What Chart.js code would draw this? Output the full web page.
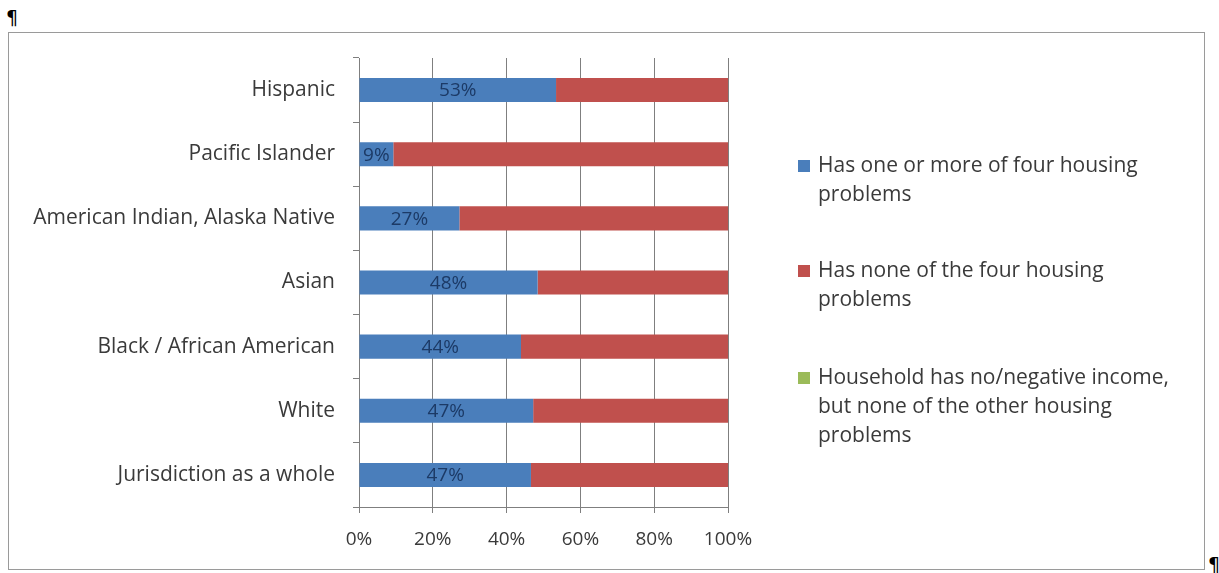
<!DOCTYPE html>
<html>
<head>
<meta charset="utf-8">
<script src="https://cdn.jsdelivr.net/npm/chart.js@4/dist/chart.umd.min.js"></script>
<style>
  body { margin: 0; background: #fff; font-family: "Open Sans", sans-serif; }
  #wrap { position: relative; width: 1219px; height: 573px; overflow: hidden; }
  #frame { position: absolute; left: 8px; top: 32px; width: 1197px; height: 538px; border: 1px solid #9a9a9a; box-sizing: border-box; }
  .pil { position: absolute; font-size: 19px; color: #000; font-family: "DejaVu Sans", sans-serif; }
  canvas { position: absolute; left: 0; top: 0; }
</style>
</head>
<body>
<div id="wrap">
  <div id="frame"></div>
  <span class="pil" style="left:6px; top:6px;">¶</span>
  <span class="pil" style="left:1208px; top:553px;">¶</span>
  <canvas id="chart1" width="1219" height="573"></canvas>
</div>
<script>
// categories, top to bottom
const categories = [
  "Hispanic",
  "Pacific Islander",
  "American Indian, Alaska Native",
  "Asian",
  "Black / African American",
  "White",
  "Jurisdiction as a whole",
];
// share of households (%)
const withProblems = [53.4, 9.3, 27.2, 48.4, 43.9, 47.2, 46.6];
const noIncome = [0, 0, 0, 0, 0, 0, 0];
const noProblems = withProblems.map((v, i) => 100 - v - noIncome[i]);
const tickLabels = ["0%", "20%", "40%", "60%", "80%", "100%"];

const seriesNames = [
  ["Has one or more of four housing", "problems"],
  ["Has none of the four housing", "problems"],
  ["Household has no/negative income,", "but none of the other housing", "problems"],
];

const textColor = "#3a3a3a";
const fontFamily = "'Open Sans', sans-serif";

// value labels inside the blue bars
const barLabels = {
  id: "barLabels",
  afterDatasetsDraw(chart) {
    const ctx = chart.ctx;
    const meta = chart.getDatasetMeta(0);
    ctx.save();
    ctx.fillStyle = "#1c3a66";
    ctx.font = "19px " + fontFamily;
    ctx.textAlign = "center";
    ctx.textBaseline = "middle";
    meta.data.forEach((bar, i) => {
      const p = bar.getProps(["x", "y", "base"], true);
      ctx.fillText(Math.round(withProblems[i]) + "%", (p.x + p.base) / 2, p.y + 1);
    });
    ctx.restore();
  },
};

// legend on the right with wrapped lines
const sideLegend = {
  id: "sideLegend",
  afterDraw(chart) {
    const ctx = chart.ctx;
    const tops = [166, 271, 378];
    ctx.save();
    ctx.font = "21px " + fontFamily;
    ctx.textBaseline = "middle";
    chart.data.datasets.forEach((ds, i) => {
      const y = tops[i];
      ctx.fillStyle = ds.backgroundColor;
      ctx.fillRect(798, y - 6, 12, 12);
      ctx.fillStyle = textColor;
      seriesNames[i].forEach((line, j) => {
        ctx.fillText(line, 818, y + j * 29);
      });
    });
    ctx.restore();
  },
};

new Chart(document.getElementById("chart1"), {
  type: "bar",
  data: {
    labels: categories,
    datasets: [
      { label: seriesNames[0].join(" "), data: withProblems, backgroundColor: "#4a7ebb" },
      { label: seriesNames[1].join(" "), data: noProblems, backgroundColor: "#c0504d" },
      { label: seriesNames[2].join(" "), data: noIncome, backgroundColor: "#9bbb59" },
    ],
  },
  options: {
    responsive: false,
    animation: false,
    indexAxis: "y",
    barPercentage: 0.5,
    categoryPercentage: 0.75,
    layout: { padding: { left: 0, top: 58, right: 491, bottom: 0 } },
    scales: {
      x: {
        stacked: true,
        min: 0,
        max: 100,
        ticks: {
          stepSize: 20,
          color: textColor,
          font: { family: fontFamily, size: 19 },
          padding: 15,
          callback: (v, i) => tickLabels[i],
        },
        grid: { color: "#7f7f7f", lineWidth: 1, tickLength: 6 },
        border: { color: "#7f7f7f" },
        afterFit: (s) => { s.height = 66; },
      },
      y: {
        stacked: true,
        ticks: {
          color: textColor,
          font: { family: fontFamily, size: 21 },
          padding: 18,
        },
        grid: { drawOnChartArea: false, offset: true, tickLength: 6, color: "#7f7f7f" },
        border: { color: "#7f7f7f" },
        afterFit: (s) => { s.width = 359; },
      },
    },
    plugins: {
      legend: { display: false },
      tooltip: { enabled: false },
    },
  },
  plugins: [barLabels, sideLegend],
});
</script>
</body>
</html>
